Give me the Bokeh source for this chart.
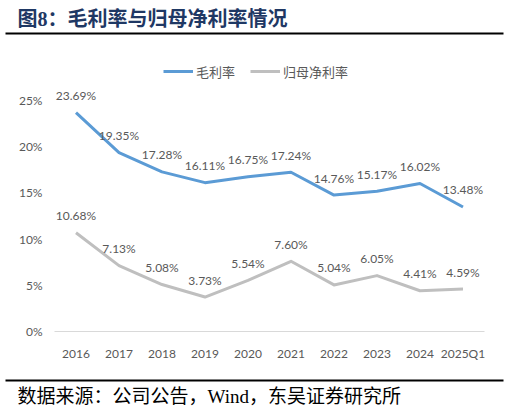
from bokeh.core.properties import value
from bokeh.embed import file_html
from bokeh.layouts import column
from bokeh.models import (ColumnDataSource, FixedTicker, Label, Legend,
                          LegendItem, Range1d)
from bokeh.plotting import figure
from bokeh.resources import INLINE

TITLE = "图8：毛利率与归母净利率情况"
SOURCE_NOTE = "数据来源：公司公告，Wind，东吴证券研究所"

years = ["2016", "2017", "2018", "2019", "2020",
         "2021", "2022", "2023", "2024", "2025Q1"]
gross_margin = [23.69, 19.35, 17.28, 16.11, 16.75,
                17.24, 14.76, 15.17, 16.02, 13.48]
net_margin = [10.68, 7.13, 5.08, 3.73, 5.54,
              7.60, 5.04, 6.05, 4.41, 4.59]
y_ticks = [0, 5, 10, 15, 20, 25]

BLUE = "#5B9BD5"
GREY = "#BFBFBF"
TEXT = "#595959"
NAVY = "#1F3864"
LATIN = "Lato"
CJK = "Noto Sans CJK SC"
SERIF = "Liberation Serif, " + CJK
W = 509


def bare(height):
    """ Blank strip in pixel coordinates, y pointing down, no axes """
    f = figure(width=W, height=height, x_range=Range1d(0, W),
               y_range=Range1d(height, 0), toolbar_location=None,
               output_backend="svg", min_border=0, outline_line_color=None,
               x_axis_location=None, y_axis_location=None)
    f.grid.visible = False
    return f


# header
head = bare(43)
head.add_layout(Label(x=17, y=18, text=TITLE, text_color=NAVY,
                      text_font=SERIF, text_font_style="bold",
                      text_font_size="20px", text_baseline="middle"))
head.segment(x0=5, y0=33, x1=503, y1=33, line_color="black", line_width=2)

# chart
src = ColumnDataSource(dict(
    year=years, gross=gross_margin, net=net_margin,
    gross_lbl=["%.2f%%" % v for v in gross_margin],
    net_lbl=["%.2f%%" % v for v in net_margin],
))

p = figure(width=W, height=327, x_range=years, y_range=Range1d(0, 29.87),
           toolbar_location=None, output_backend="svg",
           min_border_left=54, min_border_right=25, min_border_top=12,
           min_border_bottom=39, outline_line_color=None)

r_gross = p.line("year", "gross", source=src, line_color=BLUE, line_width=3,
                 line_join="round")
r_net = p.line("year", "net", source=src, line_color=GREY, line_width=3,
               line_join="round")

for col in ("gross_lbl", "net_lbl"):
    p.text("year", col.split("_")[0], text=col, source=src, y_offset=-17,
           text_align="center", text_baseline="middle", text_color=TEXT,
           text_font=value(LATIN), text_font_size="12px")

p.grid.visible = False
p.yaxis.ticker = FixedTicker(ticks=y_ticks)
p.yaxis.major_label_overrides = {t: "%d%%" % t for t in y_ticks}
p.yaxis.axis_line_color = None
p.yaxis.major_label_standoff = 12
p.xaxis.axis_line_color = "#D9D9D9"
p.xaxis.major_label_standoff = 14
for ax in (p.xaxis, p.yaxis):
    ax.major_tick_line_color = None
    ax.minor_tick_line_color = None
    ax.major_tick_out = 0
    ax.minor_tick_out = 0
    ax.major_label_text_color = TEXT
    ax.major_label_text_font = LATIN
    ax.major_label_text_font_size = "12px"

legend = Legend(items=[LegendItem(label="毛利率", renderers=[r_gross]),
                       LegendItem(label="归母净利率", renderers=[r_net])],
                location=(109, 250), orientation="horizontal",
                glyph_width=30, glyph_height=20, label_standoff=3,
                spacing=15, padding=0, margin=0, border_line_color=None,
                background_fill_alpha=0, label_text_font=CJK,
                label_text_font_size="13px", label_text_color=TEXT)
p.add_layout(legend)

# footer
foot = bare(42)
foot.segment(x0=5, y0=10, x1=503, y1=10, line_color="black", line_width=2)
foot.add_layout(Label(x=17, y=26, text=SOURCE_NOTE, text_color="black",
                      text_font=SERIF, text_font_size="19px",
                      text_baseline="middle"))

# each strip in its own column so the frames are not lined up
layout = column(column(head), column(p), column(foot), spacing=0)
open("out.html", "w").write(file_html(layout, INLINE))
